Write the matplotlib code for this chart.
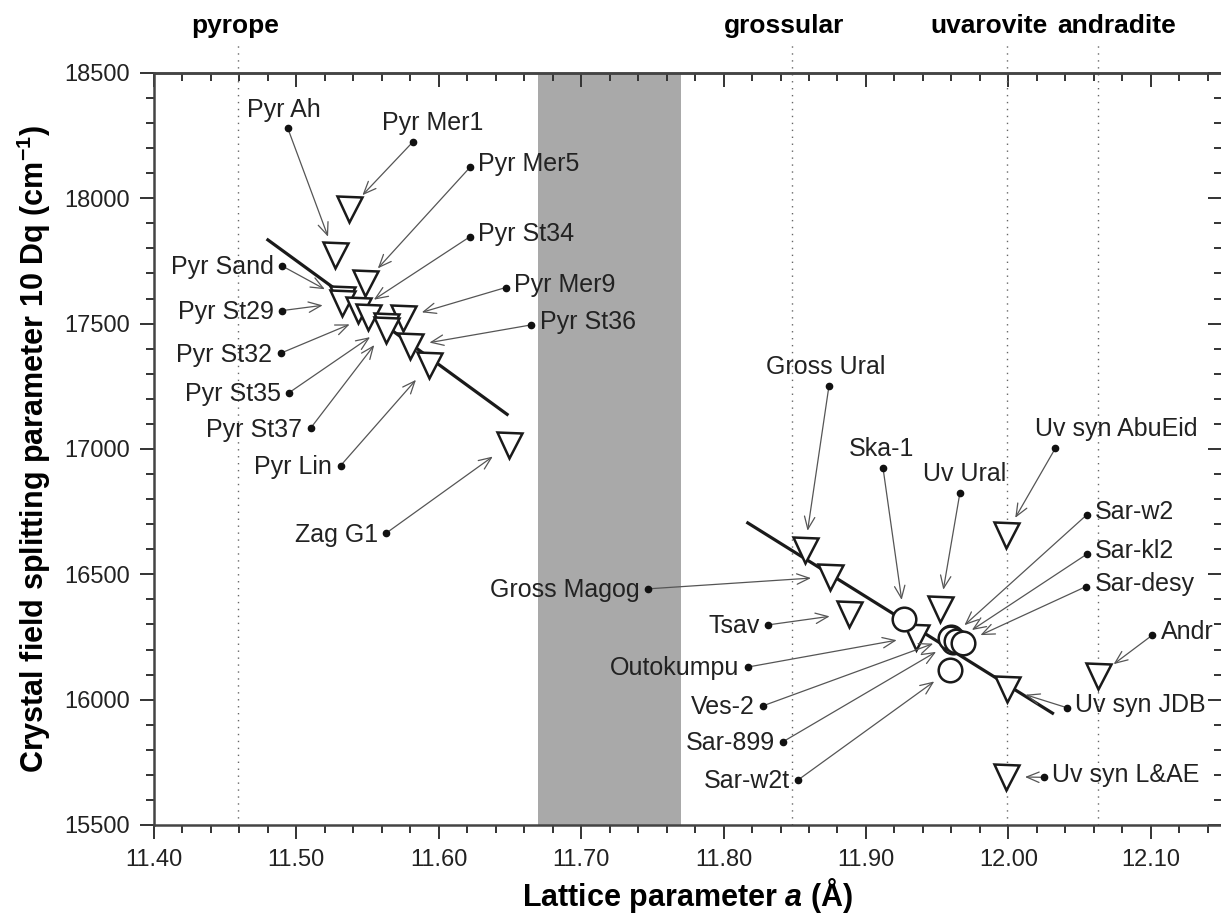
import matplotlib
matplotlib.use('Agg')
import matplotlib.pyplot as plt
from matplotlib.ticker import MultipleLocator, FormatStrFormatter

plt.rcParams['font.family'] = ['Liberation Sans', 'DejaVu Sans']
plt.rcParams['mathtext.fontset'] = 'custom'
plt.rcParams['mathtext.rm'] = 'Liberation Sans:bold'
plt.rcParams['mathtext.it'] = 'Liberation Sans:italic:bold'
plt.rcParams['mathtext.bf'] = 'Liberation Sans:bold'

# garnet end members, lattice parameter a (A)
end_names = ['pyrope', 'grossular', 'uvarovite', 'andradite']
end_a = [11.459, 11.848, 11.999, 12.063]

# samples drawn as triangles
tri_names = ['Pyr Mer1', 'Pyr Ah', 'Pyr Mer5', 'Pyr Sand', 'Pyr St29', 'Pyr St34',
             'Pyr St32', 'Pyr Mer9', 'Pyr St35', 'Pyr St37', 'Pyr St36', 'Pyr Lin',
             'Zag G1', 'Gross Ural', 'Gross Magog', 'Tsav', 'Outokumpu', 'Uv Ural',
             'Uv syn AbuEid', 'Uv syn JDB', 'Uv syn L&AE', 'Andr']
tri_a = [11.537, 11.527, 11.548, 11.532, 11.532, 11.543,
         11.550, 11.575, 11.563, 11.563, 11.580, 11.593,
         11.649, 11.857, 11.875, 11.888, 11.935, 11.952,
         11.998, 11.999, 11.998, 12.063]
tri_dq = [17956, 17774, 17663, 17600, 17583, 17553,
          17527, 17523, 17490, 17476, 17411, 17334,
          17015, 16597, 16490, 16343, 16251, 16362,
          16658, 16043, 15693, 16095]

# samples drawn as circles
circ_names = ['Ska-1', 'Ves-2', 'Sar-899', 'Sar-w2', 'Sar-kl2', 'Sar-desy', 'Sar-w2t']
circ_a = [11.927, 11.960, 11.961, 11.959, 11.963, 11.968, 11.959]
circ_dq = [16321, 16250, 16230, 16245, 16235, 16225, 16118]

# regression lines
fit_pyr_a = [11.480, 11.648]
fit_pyr_dq = [17834, 17138]
fit_gro_a = [11.817, 12.031]
fit_gro_dq = [16705, 15946]

gap_a = [11.67, 11.77]

# label dots
lab_names = ['Pyr Ah', 'Pyr Mer1', 'Pyr Mer5', 'Pyr St34', 'Pyr Sand', 'Pyr Mer9',
             'Pyr St29', 'Pyr St36', 'Pyr St32', 'Pyr St35', 'Pyr St37', 'Pyr Lin',
             'Zag G1', 'Gross Ural', 'Gross Magog', 'Tsav', 'Outokumpu', 'Ves-2',
             'Sar-899', 'Sar-w2t', 'Ska-1', 'Uv Ural', 'Uv syn AbuEid', 'Sar-w2',
             'Sar-kl2', 'Sar-desy', 'Andr', 'Uv syn JDB', 'Uv syn L&AE']
lab_a = [11.494, 11.582, 11.622, 11.622, 11.490, 11.647,
         11.490, 11.665, 11.489, 11.495, 11.510, 11.531,
         11.563, 11.874, 11.747, 11.831, 11.817, 11.8275,
         11.842, 11.8524, 11.912, 11.966, 12.033, 12.055,
         12.055, 12.0545, 12.101, 12.041, 12.025]
lab_dq = [18279, 18226, 18124, 17847, 17730, 17644,
          17552, 17495, 17382, 17225, 17083, 16933,
          16664, 17251, 16442, 16298, 16130, 15975,
          15833, 15680, 16923, 16826, 17003, 16737,
          16580, 16451, 16257, 15968, 15690]
lab_side = ['above', 'above', 'right', 'right', 'left', 'right',
            'left', 'right', 'left', 'left', 'left', 'left',
            'left', 'above', 'left', 'left', 'left', 'left',
            'left', 'left', 'above', 'above', 'above', 'right',
            'right', 'right', 'right', 'right', 'right']
above_dx = {'Pyr Ah': -3, 'Pyr Mer1': 14, 'Gross Ural': -2, 'Ska-1': -1,
            'Uv Ural': 3, 'Uv syn AbuEid': 44}
end_dx = [-2, -6, -13, 13]

pos = dict(zip(tri_names, zip(tri_a, tri_dq)))
pos.update(zip(circ_names, zip(circ_a, circ_dq)))

fig = plt.figure(figsize=(12.21, 9.13), dpi=100)
ax = fig.add_axes([0.1261, 0.0964, 0.8747, 0.8237])

ax.axvspan(gap_a[0], gap_a[1], color='#a9a9a9', lw=0, zorder=0)

for name, a, dx in zip(end_names, end_a, end_dx):
    ax.axvline(a, ymin=0, ymax=1.037, color='#666666', lw=1.0,
               linestyle=(0, (1, 4)), clip_on=False, zorder=1)
    ax.annotate(name, (a, 1.063), xycoords=ax.get_xaxis_transform(),
                xytext=(dx, 0), textcoords='offset points',
                ha='center', va='center', fontsize=19, fontweight='bold')

ax.plot(fit_pyr_a, fit_pyr_dq, color='#1a1a1a', lw=2.3, zorder=2)
ax.plot(fit_gro_a, fit_gro_dq, color='#1a1a1a', lw=2.3, zorder=2)

ax.plot(tri_a, tri_dq, 'v', ms=18, mfc='white', mec='#1a1a1a', mew=1.8,
        linestyle='none', zorder=4)
ax.plot(circ_a, circ_dq, 'o', ms=17, mfc='white', mec='#1a1a1a', mew=1.8,
        linestyle='none', zorder=4)

for name, xa, yd, side in zip(lab_names, lab_a, lab_dq, lab_side):
    ax.annotate('', xy=pos[name], xytext=(xa, yd),
                arrowprops=dict(arrowstyle='->,head_length=0.6,head_width=0.25',
                                color='#555555', lw=0.9, shrinkA=0, shrinkB=14,
                                mutation_scale=15), zorder=5)
    ax.plot(xa, yd, 'o', ms=4.5, color='#111111', zorder=6)
    if side == 'above':
        ax.annotate(name, (xa, yd), xytext=(above_dx[name], 8.5),
                    textcoords='offset points', ha='center', va='baseline',
                    fontsize=18, color='#222222')
    elif side == 'left':
        ax.annotate(name, (xa, yd), xytext=(-6, -1),
                    textcoords='offset points', ha='right', va='center',
                    fontsize=18, color='#222222')
    else:
        ax.annotate(name, (xa, yd), xytext=(6, 2),
                    textcoords='offset points', ha='left', va='center',
                    fontsize=18, color='#222222')

ax.set_xlim(11.40, 12.15)
ax.set_ylim(15500, 18500)
ax.xaxis.set_major_locator(MultipleLocator(0.1))
ax.xaxis.set_minor_locator(MultipleLocator(0.02))
ax.xaxis.set_major_formatter(FormatStrFormatter('%.2f'))
ax.yaxis.set_major_locator(MultipleLocator(500))
ax.yaxis.set_minor_locator(MultipleLocator(100))
ax.tick_params(which='both', direction='out', labelsize=17, width=1.4,
               colors='#333333', labelcolor='#222222')
ax.tick_params(which='major', length=10, pad=7)
ax.tick_params(which='minor', length=6)

top = ax.secondary_xaxis('top')
top.xaxis.set_major_locator(MultipleLocator(0.1))
top.xaxis.set_minor_locator(MultipleLocator(0.02))
top.tick_params(which='both', direction='in', labeltop=False, width=1.4, colors='#333333')
top.tick_params(which='major', length=10)
top.tick_params(which='minor', length=6)
right = ax.secondary_yaxis('right')
right.yaxis.set_major_locator(MultipleLocator(500))
right.yaxis.set_minor_locator(MultipleLocator(100))
right.tick_params(which='both', direction='in', labelright=False, width=1.4, colors='#333333')
right.tick_params(which='major', length=10)
right.tick_params(which='minor', length=6)

for sp in list(ax.spines.values()) + [top.spines['top'], right.spines['right']]:
    sp.set_linewidth(1.8)
    sp.set_color('#444444')

ax.set_xlabel('Lattice parameter $a$ (Å)', fontsize=22, fontweight='bold', labelpad=4)
ax.set_ylabel('Crystal field splitting parameter 10 Dq (cm$^{-1}$)', fontsize=22,
              fontweight='bold', labelpad=8)

fig.savefig('out.png', dpi=100)
